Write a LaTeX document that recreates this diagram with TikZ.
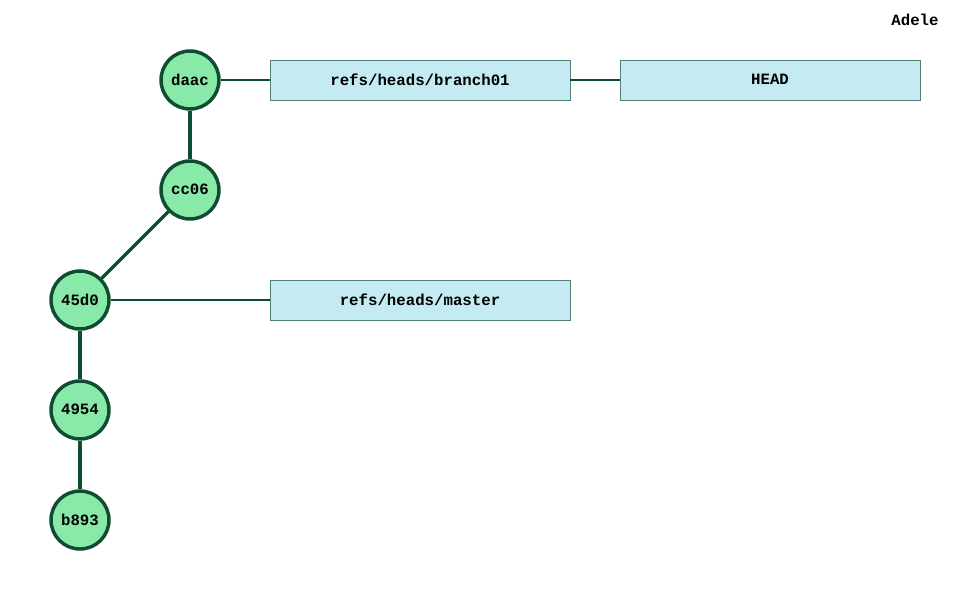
\documentclass[tikz,border=0pt]{standalone}
\usepackage{fontspec}
\setmonofont{Liberation Mono}
\begin{document}
\begin{tikzpicture}[x=0.75pt,y=-0.75pt,
  commit/.style={circle,draw=cdark,fill=cfill,line width=2.6pt,minimum size=43.5pt,inner sep=0pt,font=\ttfamily\bfseries\fontsize{11.8}{12}\selectfont},
  refbox/.style={rectangle,draw=rstroke,fill=rfill,line width=0.6pt,minimum width=225pt,minimum height=30pt,inner sep=0pt,font=\ttfamily\bfseries\fontsize{11.8}{12}\selectfont},
  cedge/.style={draw=cdark,line width=2.4pt},
  redge/.style={draw=cdark,line width=1.1pt},
  lbl/.style={font=\ttfamily\bfseries\fontsize{11.8}{12}\selectfont,inner sep=0pt}]
\definecolor{cdark}{HTML}{0F4D33}
\definecolor{cfill}{HTML}{88E9A9}
\definecolor{rstroke}{HTML}{4F7F75}
\definecolor{rfill}{HTML}{C4EBF1}
\useasboundingbox (0,0) rectangle (970,600);
\fill[white] (0,0) rectangle (970,600);
\node[commit] (daac) at (190,80) {\raisebox{0.8pt}{daac}};
\node[commit] (cc06) at (190,190) {\raisebox{0.8pt}{cc06}};
\node[commit] (45d0) at (80,300) {\raisebox{0.8pt}{45d0}};
\node[commit] (4954) at (80,410) {\raisebox{0.8pt}{4954}};
\node[commit] (b893) at (80,520) {\raisebox{0.8pt}{b893}};
\node[refbox] (br) at (420,80) {\raisebox{0.8pt}{refs/heads/branch01}};
\node[refbox] (head) at (770,80) {\raisebox{0.8pt}{HEAD}};
\node[refbox] (master) at (420,300) {\raisebox{0.8pt}{refs/heads/master}};
\node[lbl] (adele) at (915,20) {Adele};
\draw[cedge] (daac) -- (cc06);
\draw[cedge] (cc06) -- (45d0);
\draw[cedge] (45d0) -- (4954);
\draw[cedge] (4954) -- (b893);
\draw[redge] (daac) -- (br);
\draw[redge] (br) -- (head);
\draw[redge] (45d0) -- (master);
\end{tikzpicture}
\end{document}
